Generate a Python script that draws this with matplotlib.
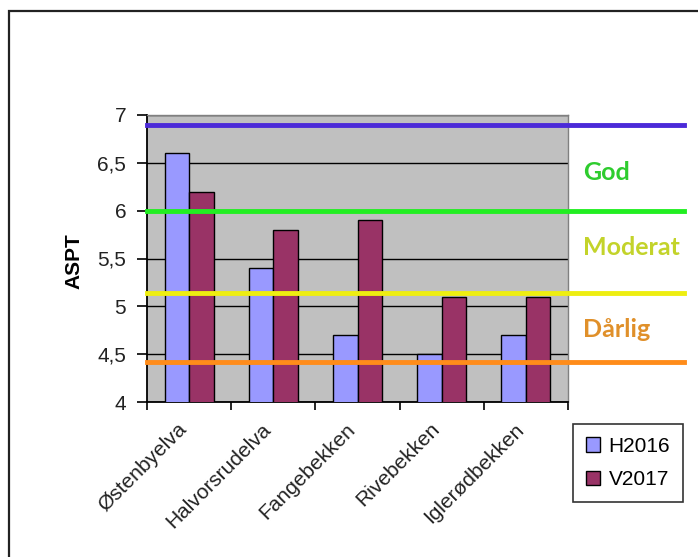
import matplotlib
matplotlib.use("Agg")
import matplotlib.pyplot as plt
import matplotlib.transforms as mtransforms
import numpy as np
from matplotlib.patches import Rectangle

# ASPT per stream, autumn 2016 and spring 2017
streams = ["Østenbyelva", "Halvorsrudelva", "Fangebekken", "Rivebekken", "Iglerødbekken"]
h2016 = [6.6, 5.4, 4.7, 4.5, 4.7]
v2017 = [6.2, 5.8, 5.9, 5.1, 5.1]
series_names = ["H2016", "V2017"]

# Class boundaries and the class names shown between them
boundaries = [6.9, 6.0, 5.14, 4.42]
boundary_colors = ["#4b2ad8", "#22ee22", "#eeee11", "#ff8c1a"]
class_names = ["God", "Moderat", "Dårlig"]
class_values = [6.4, 5.61, 4.76]
class_colors = ["#2ecc2e", "#c3d32a", "#e0902a"]

yticks = [4, 4.5, 5, 5.5, 6, 6.5, 7]
ytick_labels = ["4", "4,5", "5", "5,5", "6", "6,5", "7"]

plt.rcParams["font.family"] = ["Liberation Sans", "DejaVu Sans"]

fig = plt.figure(figsize=(6.98, 5.57), dpi=100)
fig.patch.set_facecolor("white")

# Chart frame
fig.add_artist(Rectangle((9 / 698, -0.05), 1.1, 1 - 11 / 557 + 0.05,
                         transform=fig.transFigure, fill=False,
                         edgecolor="#222222", linewidth=1.6))

ax = fig.add_axes([147 / 698, 1 - 402 / 557, 421 / 698, 287 / 557])
ax.set_facecolor("#c0c0c0")

x = np.arange(len(streams))
w = 0.29
ax.bar(x - w / 2, h2016, w, color="#9999ff", edgecolor="black",
       linewidth=1.0, label=series_names[0], zorder=3)
ax.bar(x + w / 2, v2017, w, color="#993366", edgecolor="black",
       linewidth=1.0, label=series_names[1], zorder=3)

ax.set_xlim(-0.5, len(streams) - 0.5)
ax.set_ylim(4, 7)
ax.set_yticks(yticks)
ax.set_yticklabels(ytick_labels, fontsize=15, color="#222222")
ax.yaxis.grid(True, color="black", linewidth=1.0, zorder=1)
ax.set_axisbelow(True)

ax.set_xticks(np.arange(len(streams) + 1) - 0.5, minor=False)
ax.set_xticklabels([])
ax.set_xticks(x, minor=True)
ax.set_xticklabels(streams, minor=True, rotation=45, ha="right",
                   rotation_mode="anchor", fontsize=15, color="#222222")
ax.tick_params(axis="x", which="minor", length=0, pad=9)
ax.tick_params(axis="x", which="major", length=6, width=1.2, direction="out")
ax.tick_params(axis="y", length=7, width=1.2, direction="out", pad=8)

# Nudge the slanted category names a little left and down
shift = mtransforms.ScaledTranslation(-12 / 100, -5 / 100, fig.dpi_scale_trans)
for lab in ax.get_xticklabels(minor=True):
    lab.set_transform(lab.get_transform() + shift)

for s in ["top", "right"]:
    ax.spines[s].set_color("#808080")
    ax.spines[s].set_linewidth(1.0)
for s in ["left", "bottom"]:
    ax.spines[s].set_color("black")
    ax.spines[s].set_linewidth(1.3)

ax.set_ylabel("ASPT", fontsize=15, fontweight="bold")
ax.yaxis.set_label_coords(-0.152, 0.49)

# Class boundary lines reaching past the plot area
for val, col in zip(boundaries, boundary_colors):
    ax.axhline(val, xmin=0, xmax=1.275, color=col, linewidth=3.5,
               clip_on=False, zorder=4)

for name, val, col in zip(class_names, class_values, class_colors):
    ax.text(1.035, val, name, transform=ax.get_yaxis_transform(),
            ha="left", va="center", fontsize=18, fontweight="bold",
            color=col, family=["Lato", "DejaVu Sans"])

leg = ax.legend(loc="upper left", bbox_to_anchor=(573 / 698, 1 - 424 / 557),
                bbox_transform=fig.transFigure, fontsize=15, frameon=True,
                fancybox=False, edgecolor="black", handlelength=0.7,
                handleheight=0.7, handletextpad=0.4, borderpad=0.6,
                labelspacing=0.7, borderaxespad=0)
leg.get_frame().set_linewidth(1.2)

fig.savefig("out.png", dpi=100)
